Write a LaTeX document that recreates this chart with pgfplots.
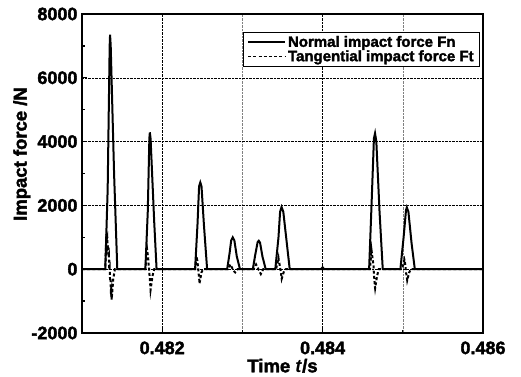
\documentclass[border=0pt]{standalone}
\usepackage{pgfplots}
\pgfplotsset{compat=1.18}
\usepackage{fontspec}
\setmainfont{Liberation Sans}[BoldFeatures={FakeBold=2}]
\begin{document}
\begin{tikzpicture}
\begin{axis}[
  scale only axis, width=401pt, height=319pt,
  xmin=0.481, xmax=0.486, ymin=-2000, ymax=8000,
  xtick={0.482,0.484,0.486}, minor xtick={0.483,0.485},
  xticklabels={\textbf{0.482},\textbf{0.484},\textbf{0.486}},
  ytick={-2000,0,2000,4000,6000,8000}, minor ytick={-1000,1000,3000,5000,7000},
  yticklabels={\textbf{-2000},\textbf{0},\textbf{2000},\textbf{4000},\textbf{6000},\textbf{8000}},
  tick label style={font=\bfseries\fontsize{18}{18}\selectfont},
  xticklabel style={yshift=-5pt},
  yticklabel style={xshift=-1pt},
  label style={font=\bfseries\fontsize{18.5}{18.5}\selectfont},
  xlabel={Time \textit{t}/s}, ylabel={Impact force /N},
  xlabel style={at={(axis description cs:0.5,-0.07)}, anchor=north},
  ylabel style={at={(axis description cs:-0.15,0.561)}, anchor=center},
  tick pos=left, tick align=inside,
  major tick length=5pt, minor tick length=3pt,
  every tick/.style={black, line width=1.3pt},
  axis line style={line width=1.6pt},
  xmajorgrids=true, xminorgrids=true, ymajorgrids=true,
  major grid style={densely dotted, black, line width=0.6pt},
  minor grid style={densely dotted, gray, line width=0.6pt},
  legend style={at={(0.993,0.944)}, anchor=north east, draw=black, line width=1.2pt,
    font=\bfseries\fontsize{15}{15}\selectfont, row sep=-2pt, inner ysep=1.5pt, inner xsep=4pt,
    cells={anchor=west}},
  legend image code/.code={\draw[#1, line width=1.8pt] (0cm,0cm) -- (1.3cm,0cm);},
]
\addplot[black, line width=2pt] coordinates {
(0.481,0) (0.48129,0) (0.48132,2500) (0.481345,7000) (0.48135,7350) (0.481358,7000) (0.48140,3000) (0.48144,0)
(0.48179,0) (0.48182,1800) (0.481840,4100) (0.481846,4290) (0.481855,4100) (0.48190,1500) (0.48193,0)
(0.48241,0) (0.48244,1400) (0.48246,2600) (0.482475,2720) (0.48249,2600) (0.48252,1400) (0.48256,0)
(0.48281,0) (0.48284,500) (0.48286,900) (0.48288,1000) (0.48290,900) (0.48293,400) (0.48297,0)
(0.48313,0) (0.48316,450) (0.48319,850) (0.483204,890) (0.48322,830) (0.48325,400) (0.48329,0)
(0.48341,0) (0.48345,1000) (0.48347,1800) (0.483488,1950) (0.48351,1800) (0.48355,900) (0.48359,0)
(0.48398,0) (0.484,60) (0.48402,0)
(0.48458,0) (0.48461,2000) (0.48464,4100) (0.484654,4260) (0.48467,4000) (0.48471,1800) (0.48475,0)
(0.48497,0) (0.48501,1000) (0.48504,1850) (0.48505,1940) (0.48507,1800) (0.48511,800) (0.48515,0)
(0.486,0)
};
\addlegendentry{Normal impact force Fn}
\addplot[black, line width=2pt, dash pattern=on 3pt off 2.2pt] coordinates {
(0.481,0) (0.48129,0) (0.481305,1100) (0.48131,950) (0.481315,1000) (0.48132,700) (0.481325,750) (0.48133,400) (0.481335,450) (0.48134,0) (0.481345,50) (0.48135,-350) (0.481355,-300) (0.48136,-650) (0.481365,-600) (0.48137,-950) (0.48139,-300) (0.48141,0)
(0.48179,0) (0.48181,650) (0.481815,550) (0.48182,450) (0.481825,350) (0.48183,150) (0.481835,100) (0.48184,-150) (0.481845,-250) (0.48185,-450) (0.481855,-650) (0.48188,-200) (0.4819,0)
(0.48241,0) (0.48243,400) (0.482435,300) (0.48244,250) (0.482445,100) (0.48245,0) (0.482455,-150) (0.48246,-250) (0.482465,-450) (0.48249,-100) (0.48251,0)
(0.48282,0) (0.48285,150) (0.48287,50) (0.48289,-50) (0.48291,-100) (0.48294,0)
(0.48314,0) (0.48317,150) (0.48319,50) (0.48321,-50) (0.48323,-150) (0.48326,0)
(0.48342,0) (0.48345,350) (0.483455,250) (0.48346,200) (0.48347,50) (0.48348,-100) (0.48349,-300) (0.48352,-50) (0.48354,0)
(0.48459,0) (0.48461,600) (0.484615,500) (0.48462,400) (0.48463,200) (0.484635,100) (0.48464,-200) (0.484645,-300) (0.48465,-500) (0.484655,-600) (0.48468,-200) (0.4847,0)
(0.48499,0) (0.48502,300) (0.485025,250) (0.48503,150) (0.485035,50) (0.48504,-100) (0.48505,-250) (0.485055,-350) (0.48508,-100) (0.4851,0)
(0.486,0)
};
\addlegendentry{Tangential impact force Ft}
\end{axis}
\pgfresetboundingbox
\path (current axis.south west) ++(-82pt,-43pt) rectangle ([shift={(38pt,14pt)}]current axis.north east);
\end{tikzpicture}
\end{document}
